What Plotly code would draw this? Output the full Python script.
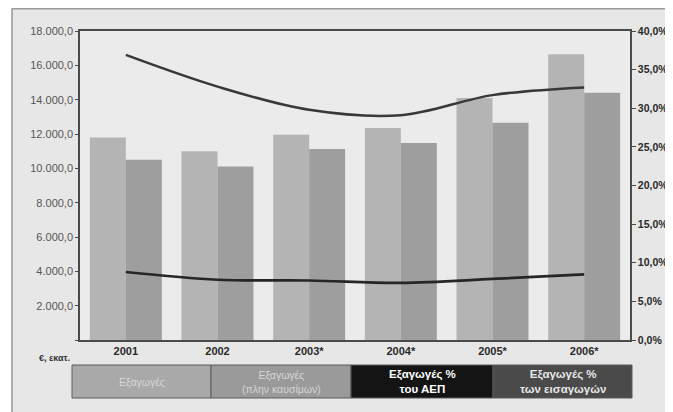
import plotly.graph_objects as go

years = ["2001", "2002", "2003*", "2004*", "2005*", "2006*"]
exports = [11800, 11000, 11950, 12350, 14100, 16650]
exports_ex_fuel = [10500, 10100, 11120, 11480, 12650, 14400]
exports_pct_gdp = [8.8, 7.8, 7.7, 7.4, 7.9, 8.5]
exports_pct_imports = [36.9, 32.8, 29.8, 29.1, 31.7, 32.7]

left_tickvals = [0, 2000, 4000, 6000, 8000, 10000, 12000, 14000, 16000, 18000]
left_ticktext = ["", "2.000,0", "4.000,0", "6.000,0", "8.000,0", "10.000,0",
                 "12.000,0", "14.000,0", "16.000,0", "18.000,0"]
right_tickvals = [0, 5, 10, 15, 20, 25, 30, 35, 40]
right_ticktext = ["0,0%", "5,0%", "10,0%", "15,0%", "20,0%", "25,0%",
                  "30,0%", "35,0%", "40,0%"]

legend_labels = ["Εξαγωγές", "Εξαγωγές<br>(πλην καυσίμων)",
                 "Εξαγωγές %<br>του ΑΕΠ", "Εξαγωγές %<br>των εισαγωγών"]
unit_label = "€, εκατ."

FONT = "Liberation Sans"
OFF = 8  # page body margin
W, H = 673 - OFF, 412 - OFF
L, T = 80 - OFF, 31 - OFF
R = W - (630 - OFF)
B = H - (340 - OFF)
PW, PH = W - L - R, H - T - B


def px(x):  # page pixel -> paper
    return (x - OFF - L) / PW


def py(y):
    return (H - B - (y - OFF)) / PH


fig = go.Figure()
fig.add_trace(go.Bar(x=years, y=exports, name=legend_labels[0],
                     marker=dict(color="#b4b4b4", line=dict(width=0))))
fig.add_trace(go.Bar(x=years, y=exports_ex_fuel, name=legend_labels[1],
                     marker=dict(color="#9e9e9e", line=dict(width=0))))
fig.add_trace(go.Scatter(x=years, y=exports_pct_gdp, yaxis="y2", mode="lines",
                         line=dict(color="#262626", width=2.7, shape="spline", smoothing=1.0),
                         name="Εξαγωγές % του ΑΕΠ"))
fig.add_trace(go.Scatter(x=years, y=exports_pct_imports, yaxis="y2", mode="lines",
                         line=dict(color="#383838", width=2.5, shape="spline", smoothing=1.0),
                         name="Εξαγωγές % των εισαγωγών"))

shapes = []
# panel border (top and left)
shapes.append(dict(type="line", xref="paper", yref="paper", x0=px(12), x1=px(700),
                   y0=py(8.8), y1=py(8.8), line=dict(color="#9a9a9a", width=1.5)))
shapes.append(dict(type="line", xref="paper", yref="paper", x0=px(12), x1=px(12),
                   y0=py(8.8), y1=py(430), line=dict(color="#9a9a9a", width=1.5)))
shapes.append(dict(type="rect", xref="paper", yref="paper", x0=px(8), x1=px(11.3),
                   y0=py(430), y1=py(8), fillcolor="white", line=dict(width=0), layer="below"))

# legend boxes
box_x = [72, 211, 351, 493, 632]
box_fill = ["#a9a9a9", "#9a9a9a", "#141414", "#4a4a4a"]
box_text = ["#d6d6d6", "#d6d6d6", "#ffffff", "#e8e8e8"]
box_bold = [False, False, True, True]
box_size = [10.5, 10.5, 11.5, 11.5]
annotations = []
for i in range(4):
    shapes.append(dict(type="rect", xref="paper", yref="paper",
                       x0=px(box_x[i]), x1=px(box_x[i + 1]), y0=py(398), y1=py(365),
                       fillcolor=box_fill[i], line=dict(color="#5a5a5a", width=1)))
    txt = legend_labels[i]
    annotations.append(dict(xref="paper", yref="paper",
                            x=px((box_x[i] + box_x[i + 1]) / 2), y=py(381.5),
                            text=(f"<b>{txt}</b>" if box_bold[i] else txt),
                            showarrow=False, xanchor="center", yanchor="middle",
                            font=dict(family=FONT, size=box_size[i], color=box_text[i])))
annotations.append(dict(xref="paper", yref="paper", x=px(54), y=py(358),
                        text=f"<b>{unit_label}</b>", showarrow=False,
                        xanchor="center", yanchor="middle",
                        font=dict(family=FONT, size=9, color="#333333")))

fig.update_layout(
    width=W, height=H,
    margin=dict(l=L, r=R, t=T, b=B, pad=0, autoexpand=False),
    paper_bgcolor="#e7e7e7",
    plot_bgcolor="#ebebeb",
    barmode="group", bargap=0.215, bargroupgap=0,
    showlegend=False,
    font=dict(family=FONT),
    shapes=shapes,
    annotations=annotations,
    xaxis=dict(type="category", showgrid=False, showline=True, mirror=True,
               linecolor="#4a4a4a", linewidth=1.5, ticks="",
               tickvals=years, ticktext=[f"<b>{y}</b>" for y in years],
               tickfont=dict(family=FONT, size=11, color="#2a2a2a")),
    yaxis=dict(range=[0, 18000], tickvals=left_tickvals, ticktext=left_ticktext,
               showgrid=False, zeroline=False, showline=True, linecolor="#4a4a4a",
               linewidth=1.5, ticks="outside", ticklen=3, tickcolor="#4a4a4a",
               tickfont=dict(family=FONT, size=11, color="#555555")),
    yaxis2=dict(range=[0, 40], overlaying="y", side="right",
                tickvals=right_tickvals, ticktext=[f"<b>{t}</b>" for t in right_ticktext],
                showgrid=False, zeroline=False, showline=True, linecolor="#4a4a4a",
                linewidth=1.5, ticks="outside", ticklen=4, tickcolor="#4a4a4a",
                tickfont=dict(family=FONT, size=10.5, color="#2a2a2a")),
)

fig.write_html("out.html")
